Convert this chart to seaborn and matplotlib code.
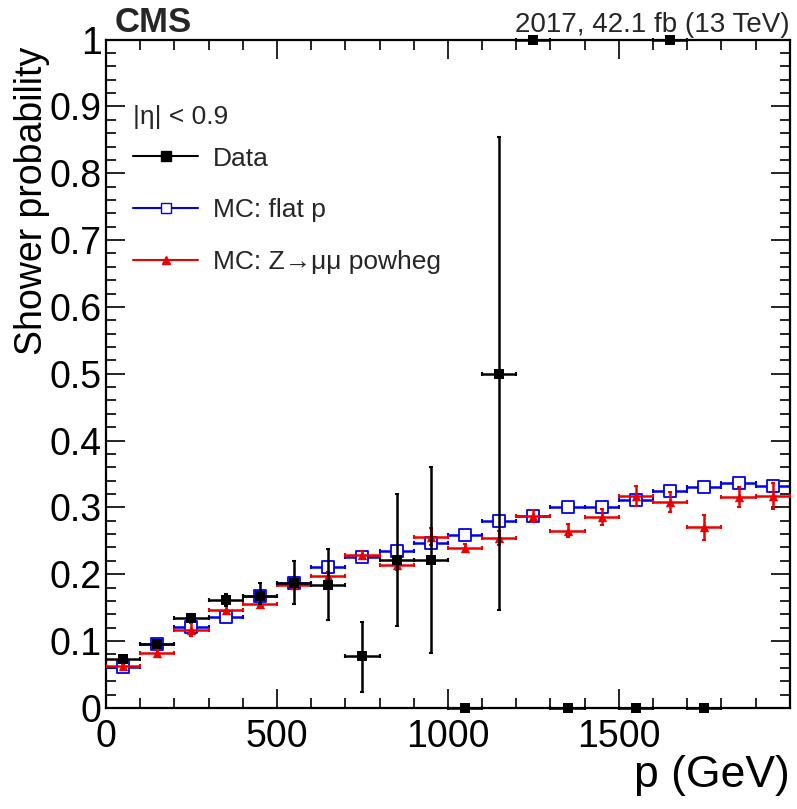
import numpy as np
import pandas as pd
import matplotlib.pyplot as plt
import seaborn as sns
from matplotlib.lines import Line2D
from matplotlib.ticker import MultipleLocator

sns.set_theme(style="ticks")
plt.rcParams['font.family'] = ['Liberation Sans', 'DejaVu Sans']

# bins of 100 GeV from 0 to 2000
bin_centers = [50, 150, 250, 350, 450, 550, 650, 750, 850, 950,
               1050, 1150, 1250, 1350, 1450, 1550, 1650, 1750, 1850, 1950]
bin_half = 50

# Data (no entries in 1450, 1850, 1950 bins)
data_p = [50, 150, 250, 350, 450, 550, 650, 750, 850, 950,
          1050, 1150, 1250, 1350, 1550, 1650, 1750]
data_prob = [0.073, 0.096, 0.135, 0.162, 0.168, 0.187, 0.184, 0.077, 0.222, 0.222,
             0.0, 0.5, 1.0, 0.0, 0.0, 1.0, 0.0]
data_err_up = [0.005, 0.005, 0.006, 0.009, 0.019, 0.033, 0.054, 0.052, 0.098, 0.138,
               0.0, 0.355, 0.0, 0.0, 0.0, 0.0, 0.0]
data_err_dn = [0.005, 0.005, 0.006, 0.009, 0.013, 0.031, 0.052, 0.053, 0.099, 0.140,
               0.0, 0.353, 0.0, 0.0, 0.0, 0.0, 0.0]

# MC: flat p
flat_prob = [0.061, 0.096, 0.121, 0.136, 0.168, 0.187, 0.211, 0.226, 0.235, 0.247,
             0.259, 0.280, 0.287, 0.301, 0.301, 0.311, 0.325, 0.331, 0.336, 0.332]
flat_err = [0.003, 0.003, 0.004, 0.004, 0.004, 0.004, 0.005, 0.004, 0.005, 0.005,
            0.005, 0.006, 0.005, 0.006, 0.006, 0.006, 0.006, 0.006, 0.006, 0.006]

# MC: Z->mumu powheg
zmm_prob = [0.062, 0.082, 0.117, 0.147, 0.156, 0.184, 0.198, 0.229, 0.214, 0.256,
            0.239, 0.254, 0.287, 0.265, 0.285, 0.317, 0.308, 0.270, 0.316, 0.317]
zmm_err = [0.003, 0.004, 0.010, 0.006, 0.005, 0.005, 0.006, 0.006, 0.007, 0.013,
           0.006, 0.010, 0.009, 0.010, 0.012, 0.015, 0.015, 0.019, 0.015, 0.020]

df_data = pd.DataFrame({'p': data_p, 'prob': data_prob})
df_flat = pd.DataFrame({'p': bin_centers, 'prob': flat_prob})
df_zmm = pd.DataFrame({'p': bin_centers, 'prob': zmm_prob})

fig = plt.figure(figsize=(7.97, 8.09), dpi=100)
ax = fig.add_axes([0.133, 0.125, 0.858, 0.826])

# MC flat p (blue, open squares)
ax.errorbar(df_flat['p'], df_flat['prob'], xerr=bin_half, yerr=flat_err, fmt='none',
            ecolor='#0000ee', elinewidth=1.8, capsize=1.5, capthick=1.5, zorder=2)
sns.scatterplot(data=df_flat, x='p', y='prob', ax=ax, marker='s', s=70,
                facecolor='white', edgecolor='#0000ee', linewidth=1.3, zorder=3)

# MC Z->mumu (red, triangles)
ax.errorbar(df_zmm['p'], df_zmm['prob'], xerr=bin_half, yerr=zmm_err, fmt='none',
            ecolor='#ee0000', elinewidth=1.8, capsize=1.5, capthick=1.5, zorder=4)
sns.scatterplot(data=df_zmm, x='p', y='prob', ax=ax, marker='^', s=45,
                color='#ee0000', edgecolor='#ee0000', linewidth=0, zorder=5)

# Data (black squares), points at 0 and 1 sit on the frame
eb = ax.errorbar(df_data['p'], df_data['prob'], xerr=bin_half,
                 yerr=[data_err_dn, data_err_up], fmt='none', ecolor='black',
                 elinewidth=1.8, capsize=1.5, capthick=1.5, zorder=6)
for art in eb.lines[1] + eb.lines[2]:
    art.set_clip_on(False)
sns.scatterplot(data=df_data, x='p', y='prob', ax=ax, marker='s', s=55,
                color='black', edgecolor='black', linewidth=0, zorder=7)
for c in ax.collections:
    c.set_clip_on(False)

ax.set_xlim(0, 2000)
ax.set_ylim(0, 1)
ax.set_xticks([0, 500, 1000, 1500])
ax.xaxis.set_minor_locator(MultipleLocator(100))
ax.set_yticks(np.arange(0, 1.01, 0.1))
ax.set_yticklabels(['0', '0.1', '0.2', '0.3', '0.4', '0.5', '0.6', '0.7', '0.8', '0.9', '1'])
ax.yaxis.set_minor_locator(MultipleLocator(0.02))
ax.tick_params(which='both', direction='in', top=True, right=True, labelsize=27,
               width=1.2, color='black', labelcolor='black')
ax.tick_params(axis='y', pad=3)
ax.tick_params(axis='x', pad=8)
ax.tick_params(which='major', length=14)
ax.tick_params(which='minor', length=7)
for sp in ax.spines.values():
    sp.set_linewidth(1.6)
    sp.set_color('black')

ax.set_xlabel('p (GeV)', fontsize=32, loc='right', color='black', labelpad=0)
ax.set_ylabel('Shower probability', fontsize=27, loc='top', color='black')
ax.yaxis.set_label_coords(-0.082, 0.99)

ax.text(0.013, 1.012, 'CMS', transform=ax.transAxes, fontsize=25, fontweight='bold',
        ha='left', va='baseline')
ax.text(1.0, 1.011, '2017, 42.1 fb (13 TeV)', transform=ax.transAxes, fontsize=20,
        ha='right', va='baseline')
ax.text(0.04, 0.884, '|\u03b7| < 0.9', transform=ax.transAxes, fontsize=19,
        ha='left', va='center')

handles = [
    Line2D([], [], color='black', marker='s', markersize=7, lw=1.5),
    Line2D([], [], color='#0000ee', marker='s', markersize=7, markerfacecolor='white', lw=1.5),
    Line2D([], [], color='#ee0000', marker='^', markersize=6, lw=1.5),
]
labels = ['Data', 'MC: flat p', 'MC: Z\u2192\u03bc\u03bc powheg']
ax.legend(handles, labels, loc='upper left', bbox_to_anchor=(0.04, 0.840), frameon=False,
          fontsize=19, handlelength=2.45, handletextpad=0.55, labelspacing=1.05,
          borderaxespad=0.0, borderpad=0.0)

fig.savefig('out.png', dpi=100)
